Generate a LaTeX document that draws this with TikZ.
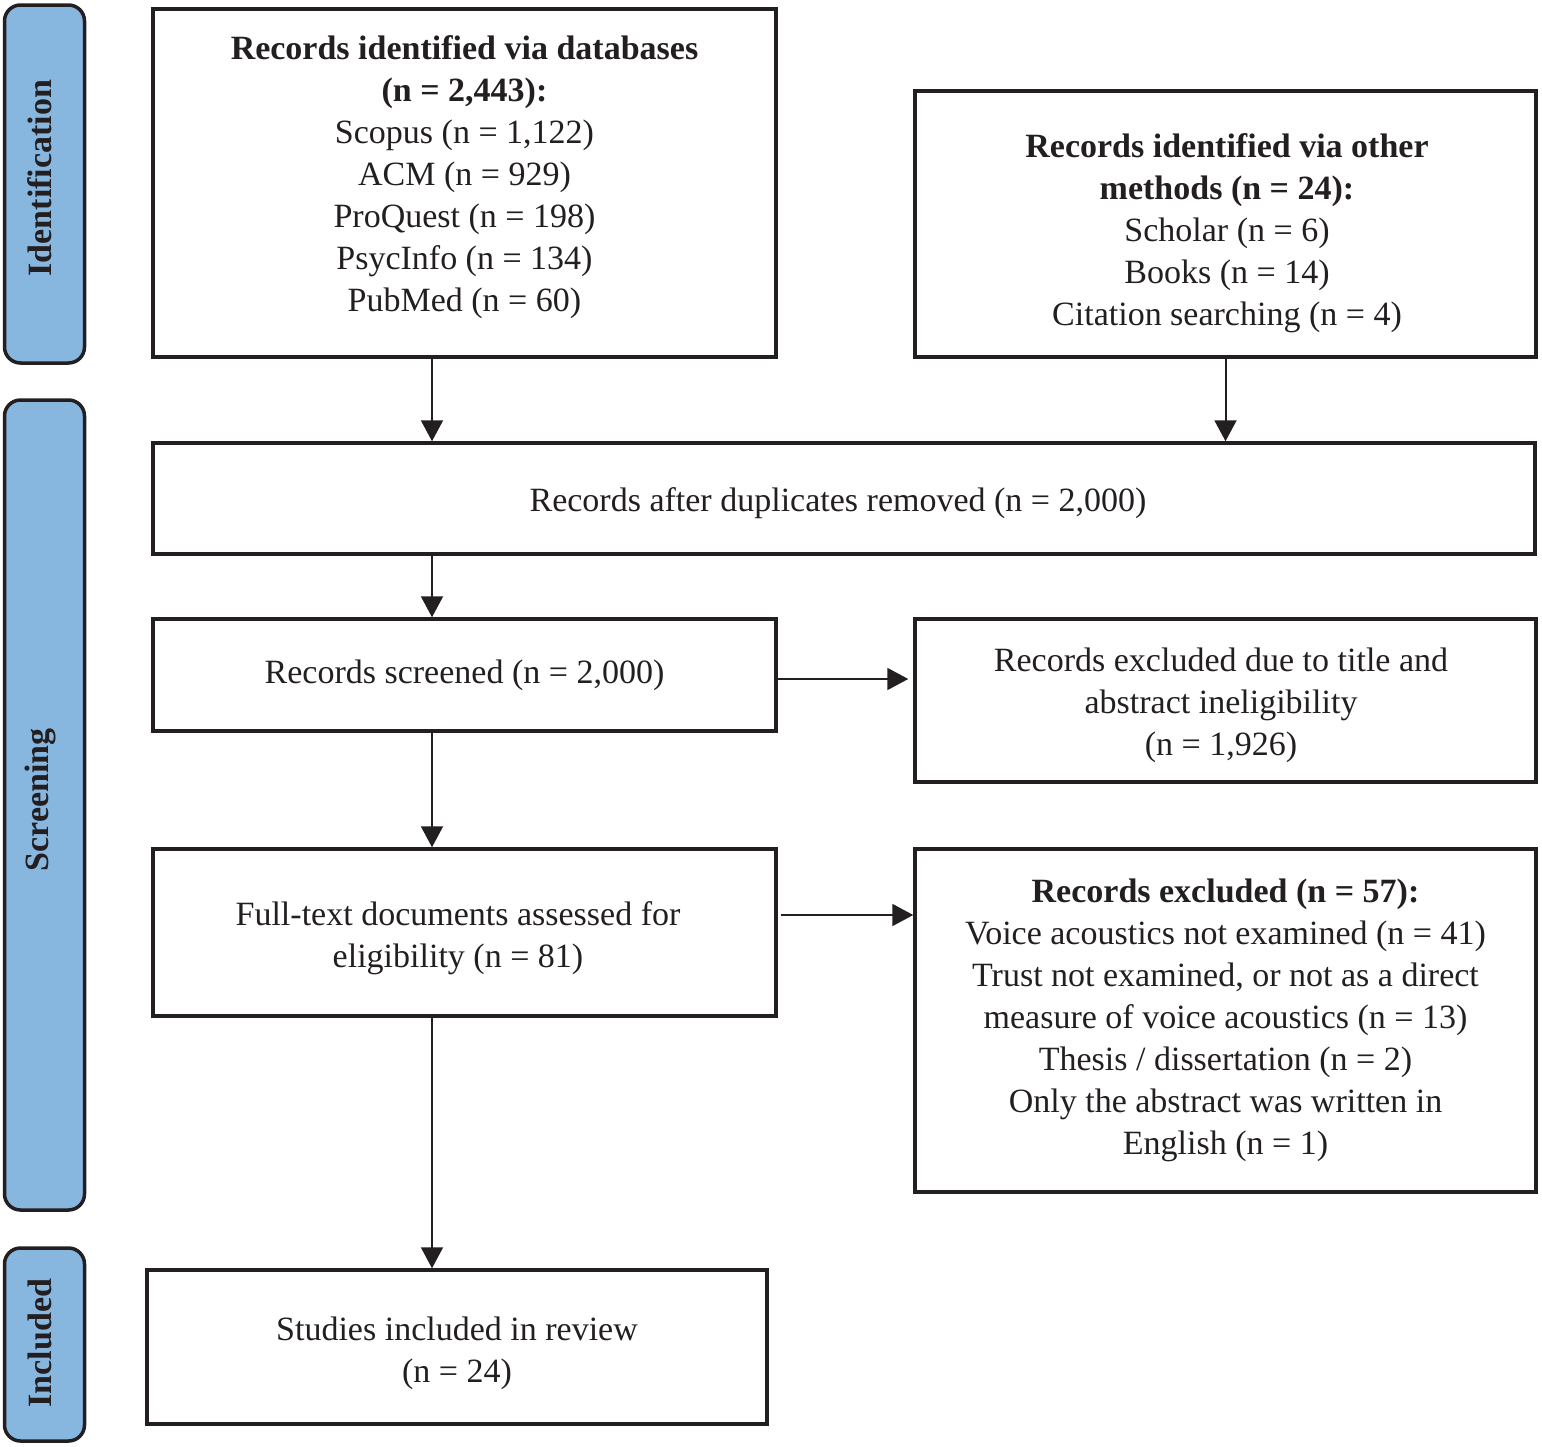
\documentclass[tikz,border=0pt]{standalone}
\usepackage{fontspec}
\setmainfont{Liberation Serif}
\usetikzlibrary{arrows.meta}
\definecolor{linec}{HTML}{231F20}
\definecolor{barblue}{HTML}{87B6DF}
\begin{document}
\begin{tikzpicture}[x=1pt,y=-1pt,
  box/.style={draw=linec, line width=3.5pt, fill=white, inner sep=0pt},
  txt/.style={align=center, inner sep=0pt, text=linec, font=\fontsize{34}{42}\selectfont},
  bar/.style={draw=linec, line width=3.5pt, fill=barblue, rounded corners=16pt, inner sep=0pt,
    minimum width=80pt},
  barlabel/.style={rotate=90, inner sep=0pt, text=linec, font=\fontsize{34}{42}\selectfont\bfseries},
  arr/.style={line width=2pt, draw=linec, -{Triangle[width=22pt,length=21pt]}}]
\useasboundingbox (0,0) rectangle (1542,1446);

% side bars
\node[bar, minimum height=358pt] (idbar) at (44.5,184) {};
\node[barlabel] (idlab) at (40,178) {Identification};
\node[bar, minimum height=810pt] (scbar) at (44.5,805) {};
\node[barlabel] (sclab) at (40,800) {Screening};
\node[bar, minimum height=193pt] (inbar) at (44.5,1344.5) {};
\node[barlabel] (inlab) at (40,1343) {Included};

% boxes
\node[box, minimum width=623pt, minimum height=348pt] (db) at (464.5,183) {};
\node[txt] (dbt) at (464.5,177)
  {\textbf{Records identified via databases}\\\textbf{(n = 2,443):}\\Scopus (n = 1,122)\\ACM (n = 929)\\ProQuest (n = 198)\\PsycInfo (n = 134)\\PubMed (n = 60)};
\node[box, minimum width=621pt, minimum height=266pt] (oth) at (1225.5,224) {};
\node[txt] (otht) at (1227,233)
  {\textbf{Records identified via other}\\\textbf{methods (n = 24):}\\Scholar (n = 6)\\Books (n = 14)\\Citation searching (n = 4)};
\node[box, minimum width=1382pt, minimum height=111pt] (dup) at (844,498.5) {};
\node[txt] (dupt) at (838,503.5) {Records after duplicates removed (n = 2,000)};
\node[box, minimum width=623pt, minimum height=112pt] (scr) at (464.5,675) {};
\node[txt] (scrt) at (464.5,675) {Records screened (n = 2,000)};
\node[box, minimum width=621pt, minimum height=163pt] (exA) at (1225.5,700.5) {};
\node[txt] (exAt) at (1221,705)
  {Records excluded due to title and\\abstract ineligibility\\(n = 1,926)};
\node[box, minimum width=623pt, minimum height=167pt] (full) at (464.5,932.5) {};
\node[txt] (fullt) at (458,938)
  {Full-text documents assessed for\\eligibility (n = 81)};
\node[box, minimum width=621pt, minimum height=343pt] (exB) at (1225.5,1020.5) {};
\node[txt] (exBt) at (1225.5,1020.5)
  {\textbf{Records excluded (n = 57):}\\Voice acoustics not examined (n = 41)\\Trust not examined, or not as a direct\\measure of voice acoustics (n = 13)\\Thesis / dissertation (n = 2)\\Only the abstract was written in\\English (n = 1)};
\node[box, minimum width=620pt, minimum height=154pt] (inc) at (457,1347) {};
\node[txt] (inct) at (457,1353) {Studies included in review\\(n = 24)};

% connectors
\coordinate (cx) at (432,0);
\coordinate (hy1) at (0,679);
\coordinate (hy2) at (0,915);
\draw[arr] (db.south -| cx) -- (dup.north -| cx);
\draw[arr] (oth.south) -- (dup.north -| oth.south);
\draw[arr] (dup.south -| cx) -- (scr.north -| cx);
\draw[arr] (scr.south -| cx) -- (full.north -| cx);
\draw[arr] (full.south -| cx) -- (inc.north -| cx);
\draw[arr] (scr.east |- hy1) -- ([xshift=-5pt]exA.west |- hy1);
\draw[arr] ([xshift=3pt]full.east |- hy2) -- (exB.west |- hy2);
\end{tikzpicture}
\end{document}
